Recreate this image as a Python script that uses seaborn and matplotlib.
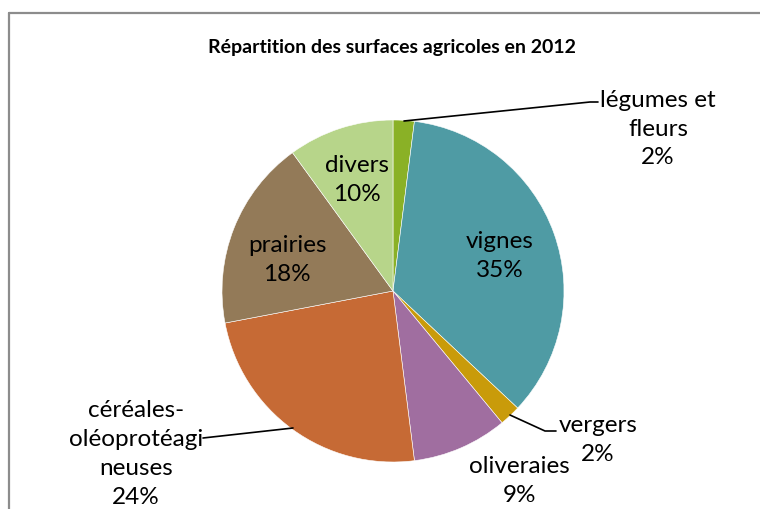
import matplotlib
matplotlib.use("Agg")
import matplotlib.pyplot as plt
from matplotlib.lines import Line2D
import seaborn as sns

# ---- data ----
categories = ["légumes et\nfleurs", "vignes", "vergers", "oliveraies",
              "céréales-\noléoprotéagi\nneuses", "prairies", "divers"]
values = [2, 35, 2, 9, 24, 18, 10]
colors = ["#8AB126", "#4F9BA4", "#C99B0A", "#A06EA0", "#C66A35", "#937A58", "#B7D58A"]
title = "Répartition des surfaces agricoles en 2012"

sns.set_theme(style="white")
plt.rcParams["font.family"] = ["Lato", "DejaVu Sans"]

W, H = 760, 510
fig = plt.figure(figsize=(W / 100, H / 100), dpi=100)
ax = fig.add_axes([0, 0, 1, 1])
ax.set_xlim(0, W)
ax.set_ylim(0, H)
ax.set_aspect("equal")
ax.axis("off")

def Y(ypx):
    return H - ypx

cx, cy, r = 393, Y(292), 171
wedges, _ = ax.pie(values, colors=colors, startangle=90, counterclock=False,
                   center=(cx, cy), radius=r, frame=True,
                   wedgeprops=dict(edgecolor="white", linewidth=0.4))
ax.set_xlim(0, W)
ax.set_ylim(0, H)
ax.axis("off")

# label positions (pixel coords, layout only)
label_pos = [(658, 129), (500, 256), (598, 440), (519, 481), (136, 454), (287, 260), (357, 180)]
fs = 17.5
for cat, v, (x, y) in zip(categories, values, label_pos):
    ax.text(x, Y(y), f"{cat}\n{v}%", ha="center", va="center", fontsize=fs,
            color="black", linespacing=1.47)

# leader lines
lk = dict(color="black", lw=1.2)
ax.plot([404, 590, 598], [Y(122), Y(103), Y(103)], **lk)
ax.plot([510, 545, 556], [Y(416), Y(432), Y(432)], **lk)
ax.plot([293, 203], [Y(429), Y(439)], **lk)

ax.text(392, Y(47), title, ha="center", va="center", fontsize=14,
        fontweight="bold", color="black")

# chart frame
fig.add_artist(Line2D([9 / W, 9 / W], [0, 1 - 14 / H], color="#8C8C8C", lw=1.6,
                      transform=fig.transFigure))
fig.add_artist(Line2D([9 / W, 1], [1 - 14 / H, 1 - 14 / H], color="#8C8C8C", lw=1.6,
                      transform=fig.transFigure))

fig.savefig("out.png", dpi=100, facecolor="white")
